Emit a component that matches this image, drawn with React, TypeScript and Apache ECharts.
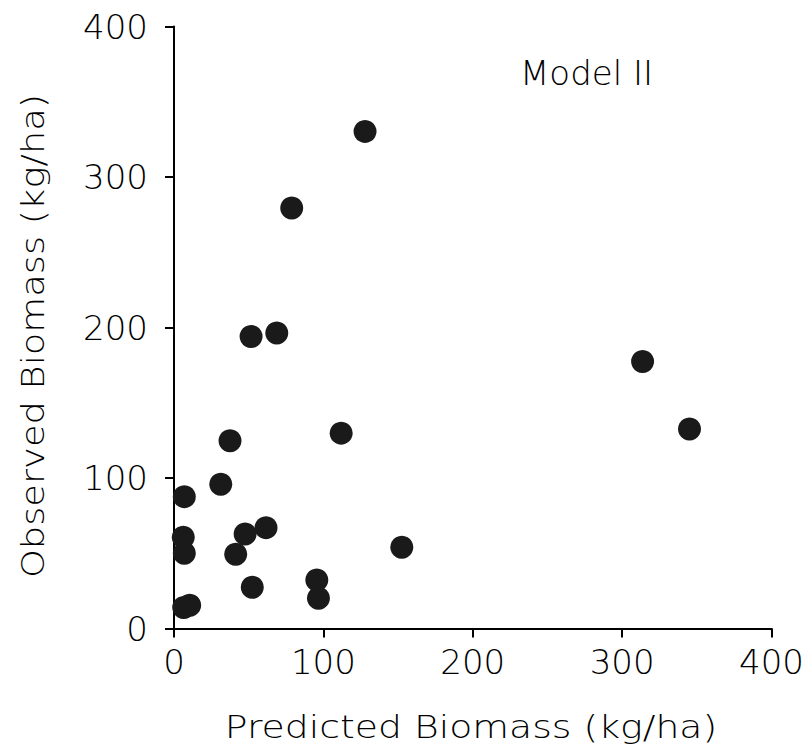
import React, { useEffect, useRef } from "react";
import * as echarts from "echarts";

const predicted = [127.9, 78.8, 51.6, 68.8, 37.5, 111.9, 313.7, 345.1, 31.3, 6.9, 6.2, 6.9, 47.6, 61.6, 41.3, 152.5, 95.6, 96.7, 52.4, 6.5, 10.5];
const observed = [330.3, 279.4, 194.0, 196.3, 124.7, 129.8, 177.4, 132.6, 95.9, 87.6, 60.6, 50.0, 62.8, 67.0, 49.3, 54.0, 32.2, 20.1, 27.4, 14.0, 15.5];
const ticks = [0, 100, 200, 300, 400];
const xTitle = "Predicted Biomass (kg/ha)";
const yTitle = "Observed Biomass (kg/ha)";
const label = "Model II";

const FONT = "'DejaVu Sans', sans-serif";
const INK = "#000";

export default function App() {
  const ref = useRef<HTMLDivElement>(null);
  useEffect(() => {
    const chart = echarts.init(ref.current!, null, { renderer: "svg" });
    const axisCommon = {
      type: "value" as const,
      min: ticks[0],
      max: ticks[ticks.length - 1],
      interval: 100,
      splitLine: { show: false },
      axisLine: { show: true, lineStyle: { color: INK, width: 2 } },
      axisTick: { show: true, inside: false, length: 9, lineStyle: { color: INK, width: 2 } },
      axisLabel: { fontFamily: FONT, fontSize: 34, color: INK, fontWeight: 300 },
    };
    chart.setOption({
      animation: false,
      backgroundColor: "#fff",
      grid: { left: 174, right: 39.5, top: 26.5, bottom: 125.5, containLabel: false },
      xAxis: {
        ...axisCommon,
        axisLabel: { ...axisCommon.axisLabel, margin: 16 },
      },
      yAxis: {
        ...axisCommon,
        axisLabel: { ...axisCommon.axisLabel, margin: 26 },
      },
      graphic: [
        {
          type: "text",
          left: 520,
          top: 56,
          style: { text: label, fontFamily: FONT, fontSize: 34, fill: INK, fontWeight: 300 },
        },
        {
          type: "text",
          x: 471,
          y: 727,
          scaleX: 1.18,
          style: {
            text: xTitle,
            fontFamily: FONT,
            fontSize: 32,
            fill: INK,
            fontWeight: 300,
            align: "center",
            verticalAlign: "middle",
          },
        },
        {
          type: "text",
          x: 33,
          y: 336,
          rotation: Math.PI / 2,
          scaleX: 1.15,
          style: {
            text: yTitle,
            fontFamily: FONT,
            fontSize: 32,
            fill: INK,
            fontWeight: 300,
            align: "center",
            verticalAlign: "middle",
          },
        },
      ],
      series: [
        {
          type: "scatter",
          symbol: "circle",
          symbolSize: 23,
          itemStyle: { color: "#1a1a1a", opacity: 1 },
          data: predicted.map((x, i) => [x, observed[i]]),
        },
      ],
    });
    return () => chart.dispose();
  }, []);
  return (
    <div
      ref={ref}
      style={{ position: "fixed", left: 0, top: 0, width: 811, height: 754, background: "#fff" }}
    />
  );
}
